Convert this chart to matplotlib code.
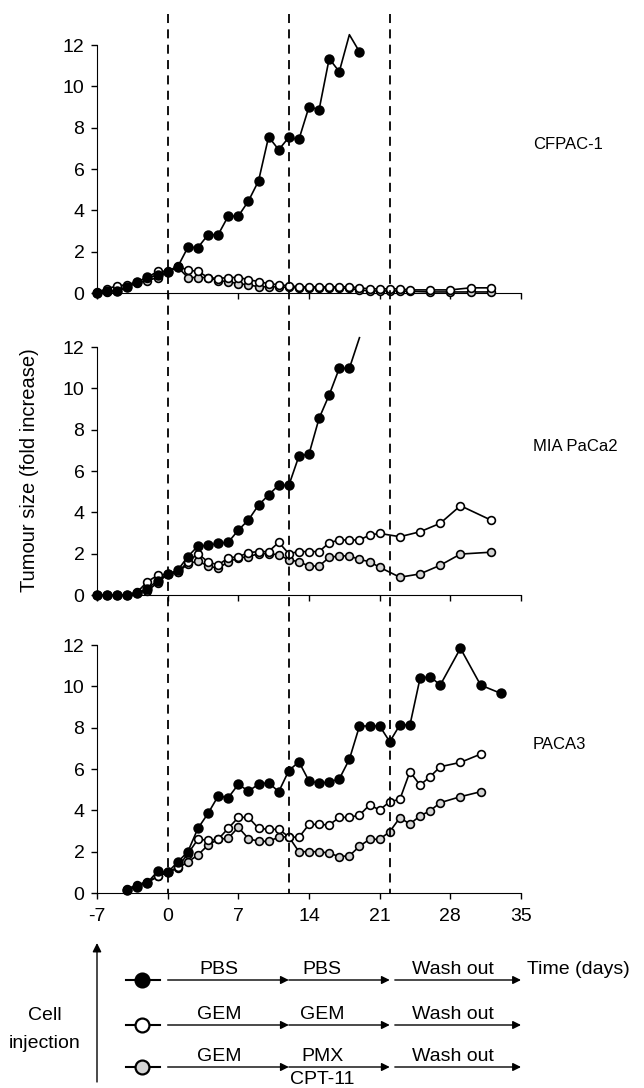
"""
Tumour growth curves for three pancreatic cell lines (CFPAC-1, MIA PaCa2,
PACA3) under PBS / GEM / GEM->PMX+CPT-11 schedules, with treatment schema.

Saves the chart to ``out.png``.
"""

import matplotlib

matplotlib.use("Agg")
import matplotlib.pyplot as plt
import numpy as np
from matplotlib.lines import Line2D
from matplotlib.transforms import blended_transform_factory

plt.rcParams["font.family"] = ["Liberation Sans", "DejaVu Sans"]
plt.rcParams["axes.unicode_minus"] = False

# ---- data (fold increase vs days) ----
top_days_pbs = list(range(-7, 20))
top_pbs = [0.02, 0.1, 0.1, 0.27, 0.55, 0.76, 0.85, 1.03, 1.27, 2.21,
           2.2, 2.82, 2.82, 3.72, 3.72, 4.45, 5.42, 7.56, 6.93, 7.53,
           7.43, 9.01, 8.87, 11.34, 10.71, 12.5, 11.67]
top_days_open = list(range(-7, 25)) + [26, 28, 30, 32]
top_gem = [0.05, 0.2, 0.35, 0.4, 0.55, 0.75, 1.05, 1.05, 1.3, 1.1,
           1.05, 0.75, 0.7, 0.75, 0.75, 0.65, 0.55, 0.45, 0.4, 0.35,
           0.3, 0.3, 0.3, 0.3, 0.3, 0.3, 0.25, 0.2, 0.2, 0.2,
           0.2, 0.15, 0.15, 0.15, 0.25, 0.25]
top_pmx = [0.02, 0.05, 0.1, 0.3, 0.5, 0.6, 0.75, 1.0, 1.25, 0.75,
           0.75, 0.75, 0.6, 0.55, 0.45, 0.4, 0.3, 0.3, 0.3, 0.27,
           0.25, 0.25, 0.25, 0.25, 0.25, 0.22, 0.15, 0.1, 0.1, 0.1,
           0.1, 0.08, 0.05, 0.05, 0.05, 0.05]

mid_days_pbs = list(range(-7, 20))
mid_pbs = [0, 0, 0, 0, 0.1, 0.3, 0.7, 1.0, 1.2, 1.86,
           2.37, 2.4, 2.5, 2.55, 3.14, 3.63, 4.35, 4.84, 5.32, 5.3,
           6.72, 6.82, 8.55, 9.68, 10.97, 10.97, 12.45]
mid_days_open = list(range(-7, 22)) + [23, 25, 27, 29, 32]
mid_gem = [0, 0, 0, 0, 0.15, 0.65, 0.95, 1.0, 1.1, 1.6,
           2.0, 1.6, 1.45, 1.8, 1.85, 2.05, 2.1, 2.1, 2.55, 2.0,
           2.1, 2.1, 2.1, 2.53, 2.66, 2.66, 2.66, 2.9, 2.98,
           2.82, 3.06, 3.47, 4.32, 3.63]
mid_pmx = [0, 0, 0, 0, 0.1, 0.2, 0.6, 1.0, 1.1, 1.5,
           1.65, 1.4, 1.3, 1.6, 1.8, 1.85, 2.0, 2.0, 1.95, 1.7,
           1.61, 1.4, 1.4, 1.82, 1.89, 1.89, 1.72, 1.61, 1.34,
           0.86, 1.02, 1.44, 1.98, 2.07]

bot_days_pbs = list(range(-4, 28)) + [29, 31, 33]
bot_pbs = [0.15, 0.3, 0.5, 1.05, 1.0, 1.5,
           2.0, 3.13, 3.85, 4.69, 4.61, 5.26, 4.93, 5.26, 5.34, 4.9,
           5.92, 6.35, 5.42, 5.31, 5.37, 5.52, 6.47, 8.08, 8.08, 8.08,
           7.32, 8.13, 8.13, 10.39, 10.47, 10.06,
           11.84, 10.06, 9.66]
bot_days_open = list(range(-4, 28)) + [29, 31]
bot_gem = [0.15, 0.35, 0.5, 0.8, 1.0, 1.25,
           1.9, 2.6, 2.55, 2.6, 3.13, 3.66, 3.66, 3.13, 3.08, 3.08,
           2.72, 2.69, 3.32, 3.32, 3.29, 3.66, 3.66, 3.77, 4.26, 4.02,
           4.42, 4.53, 5.87, 5.22, 5.63, 6.11,
           6.32, 6.72]
bot_pmx = [0.2, 0.4, 0.55, 0.8, 1.0, 1.2,
           1.5, 1.84, 2.32, 2.6, 2.65, 3.18, 2.63, 2.5, 2.5, 2.7,
           2.72, 2.0, 2.0, 2.0, 1.93, 1.76, 1.8, 2.26, 2.6, 2.6,
           2.97, 3.64, 3.34, 3.73, 3.98, 4.37,
           4.66, 4.9]

panel_names = ["CFPAC-1", "MIA PaCa2", "PACA3"]
x_ticks = [-7, 0, 7, 14, 21, 28, 35]
y_ticks = [0, 2, 4, 6, 8, 10, 12]
phase_edges = [0, 12, 22]

schema_rows = [["PBS", "PBS", "Wash out"],
               ["GEM", "GEM", "Wash out"],
               ["GEM", "PMX", "Wash out"]]
schema_fill = ["black", "white", "#d4d4d4"]

panels = [
    (top_days_pbs, top_pbs, top_days_open, top_gem, top_pmx),
    (mid_days_pbs, mid_pbs, mid_days_open, mid_gem, mid_pmx),
    (bot_days_pbs, bot_pbs, bot_days_open, bot_gem, bot_pmx),
]

# ---- figure ----
W, H = 644, 1088
fig = plt.figure(figsize=(W / 100, H / 100), dpi=100)

left, width = 97 / W, 424 / W
zero_px = [293, 595, 893]
axes = []
for i, (zpx, data) in enumerate(zip(zero_px, panels)):
    ax = fig.add_axes([left, 1 - zpx / H, width, 248 / H])
    axes.append(ax)
    d_pbs, v_pbs, d_open, v_gem, v_pmx = data

    def draw(days, vals, face, ms, z):
        vals = np.asarray(vals, dtype=float)
        ax.plot(days, vals, color="black", lw=1.2, clip_on=False, zorder=z)
        # points above the axis top show only as line (no marker)
        ax.plot(days, np.ma.masked_where(vals > 12, vals), ls="none",
                marker="o", ms=ms, mfc=face, mec="black", mew=1.2,
                clip_on=False, zorder=z + 0.5)

    draw(d_open, v_pmx, "#d4d4d4", 5.6, 3)
    draw(d_open, v_gem, "white", 5.6, 4)
    draw(d_pbs, v_pbs, "black", 6.3, 5)

    ax.set_xlim(-7, 35)
    ax.set_ylim(0, 12)
    ax.set_xticks(x_ticks)
    ax.set_yticks(y_ticks)
    ax.spines["top"].set_visible(False)
    ax.spines["right"].set_visible(False)
    ax.tick_params(direction="out", length=4, width=1, labelsize=14, pad=5)
    if i < 2:
        ax.set_xticklabels([])
    else:
        ax.tick_params(axis="x", pad=7)
    ax.text(36.2, 7.2, panel_names[i], fontsize=12, va="center", ha="left",
            clip_on=False)

# dashed phase boundaries running through all three panels
trans = blended_transform_factory(axes[-1].transData, fig.transFigure)
for xv in phase_edges:
    fig.add_artist(Line2D([xv, xv], [1 - 14 / H, 1 - 893 / H], transform=trans,
                          color="black", lw=1.3, ls=(0, (5, 3.5)), zorder=10))

fig.text(30 / W, 1 - 470 / H, "Tumour size (fold increase)", rotation=90,
         fontsize=14.5, ha="center", va="center")
fig.text(527 / W, 1 - 969 / H, "Time (days)", fontsize=14, ha="left",
         va="center")

# ---- treatment schema ----
axs = fig.add_axes([left, 0, width, 150 / H])
axs.set_xlim(-7, 35)
axs.set_ylim(H, H - 150)
axs.axis("off")

axs.annotate("", xy=(-7, 943), xytext=(-7, 1082),
             arrowprops=dict(arrowstyle="-|>", lw=1, color="black",
                             mutation_scale=13, shrinkA=0, shrinkB=0))
axs.text(-12.2, 1015, "Cell", fontsize=14, ha="center", va="center")
axs.text(-12.2, 1044, "injection", fontsize=14, ha="center", va="center")

row_y = [980, 1025, 1067]
segments = [(0, 12), (12, 22), (22.5, 35)]
label_x = [5.1, 15.3, 28.3]
for ry, labels, face in zip(row_y, schema_rows, schema_fill):
    axs.plot([-4.1, -0.8], [ry, ry], color="black", lw=1.5)
    axs.plot([-2.5], [ry], marker="o", ms=10, mfc=face, mec="black", mew=1.6)
    for (x0, x1), lx, lab in zip(segments, label_x, labels):
        axs.annotate("", xy=(x1, ry), xytext=(x0, ry),
                     arrowprops=dict(arrowstyle="-|>", lw=1, color="black",
                                     mutation_scale=12, shrinkA=0, shrinkB=0))
        axs.text(lx, ry - 6, lab, fontsize=14, ha="center", va="baseline")
axs.text(label_x[1], 1080, "CPT-11", fontsize=14, ha="center", va="center")

fig.savefig("out.png", dpi=100)
plt.close(fig)
